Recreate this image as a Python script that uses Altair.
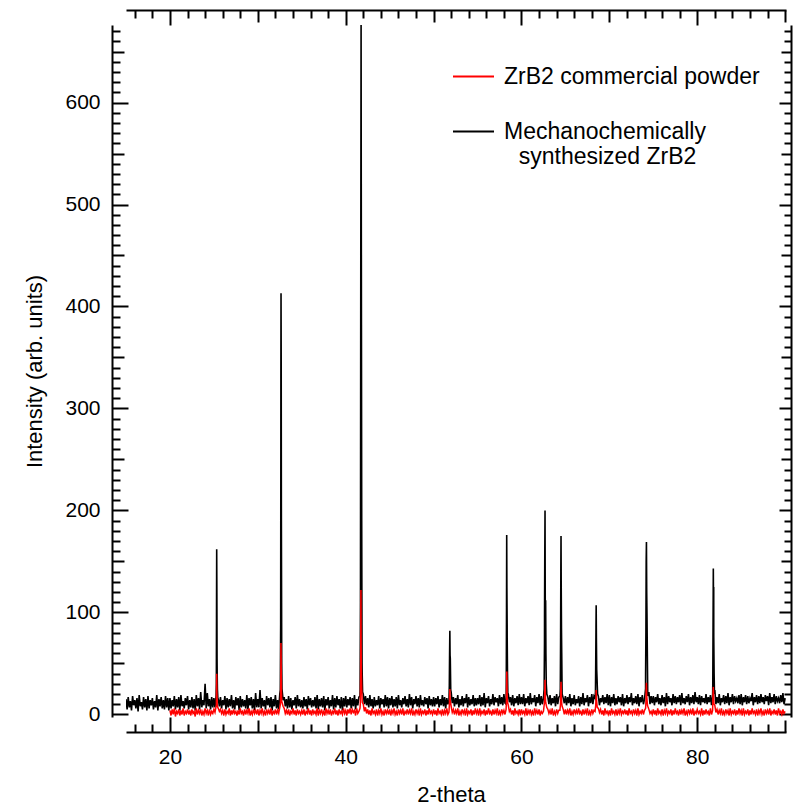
import altair as alt
import numpy as np
import pandas as pd

FONT = "Liberation Sans"

# ---------------- axis ranges and ticks ----------------
X_DOMAIN = [15, 90.1]
Y_DOMAIN = [-2.5, 676]

x_major = [20, 40, 60, 80]
x_medium = [30, 50, 70, 90]
x_minor = [16, 18, 22, 24, 26, 28, 32, 34, 36, 38, 42, 44, 46, 48, 52, 54, 56, 58,
           62, 64, 66, 68, 72, 74, 76, 78, 82, 84, 86, 88]
y_major = [0, 100, 200, 300, 400, 500, 600]
y_medium = [50, 150, 250, 350, 450, 550, 650]
y_minor = [10, 20, 30, 40, 60, 70, 80, 90, 110, 120, 130, 140, 160, 170, 180, 190,
           210, 220, 230, 240, 260, 270, 280, 290, 310, 320, 330, 340, 360, 370, 380, 390,
           410, 420, 430, 440, 460, 470, 480, 490, 510, 520, 530, 540, 560, 570, 580, 590,
           610, 620, 630, 640, 660, 670]

SERIES_RED = "ZrB2 commercial powder"
SERIES_BLACK = "Mechanochemically synthesized ZrB2"

# ---------------- mechanochemically synthesized ZrB2 (black) ----------------
# baseline grid: 15.000 .. 90.000, step 0.125 deg (one row = 5 deg)
black_start, black_step = 15.0, 0.125
black_base = (
    [15, 5, 17, 7, 13, 4, 18, 9, 14, 6, 16, 3, 19, 8, 12, 5, 17, 7, 15, 4,
     18, 6, 14, 9, 16, 5, 13, 7, 19, 4, 15, 8, 17, 6, 14, 5, 18, 7, 16, 4] +
    [16, 6, 14, 8, 18, 5, 15, 7, 17, 4, 19, 8, 13, 6, 16, 9, 18, 5, 14, 7,
     17, 6, 15, 4, 19, 8, 16, 5, 22, 7, 14, 9, 30, 6, 21, 8, 15, 5, 17, 7] +
    [16, 7, 18, 40, 15, 8, 17, 6, 14, 9, 18, 5, 16, 7, 15, 8, 19, 6, 14, 5,
     17, 9, 16, 4, 18, 7, 15, 8, 14, 6, 19, 5, 16, 9, 17, 6, 15, 4, 21, 7] +
    [15, 7, 24, 6, 16, 8, 14, 5, 18, 9, 16, 7, 17, 4, 15, 8, 19, 6, 14, 5,
     20, 330, 25, 14, 17, 8, 15, 6, 18, 7, 16, 5, 14, 9, 17, 6, 19, 8, 15, 7] +
    [14, 6, 17, 8, 15, 5, 18, 9, 16, 7, 14, 8, 17, 6, 19, 5, 15, 8, 16, 7,
     18, 4, 15, 9, 17, 6, 14, 8, 19, 5, 16, 7, 18, 9, 15, 6, 17, 4, 16, 8] +
    [18, 7, 15, 9, 17, 6, 16, 8, 19, 5, 15, 9, 17, 18, 680, 40, 20, 10, 18, 9,
     16, 7, 19, 8, 15, 6, 17, 8, 14, 9, 18, 6, 16, 10, 15, 7, 19, 8, 17, 6] +
    [16, 9, 18, 7, 15, 8, 17, 6, 19, 9, 14, 7, 16, 10, 18, 8, 15, 7, 20, 9,
     17, 6, 15, 10, 18, 8, 16, 7, 19, 9, 14, 8, 17, 10, 16, 6, 18, 9, 15, 8] +
    [17, 8, 16, 10, 18, 7, 15, 9, 19, 8, 17, 6, 16, 10, 14, 58, 22, 11, 17, 8,
     16, 10, 19, 7, 15, 9, 18, 8, 16, 11, 20, 7, 17, 9, 15, 10, 19, 8, 16, 9] +
    [16, 10, 19, 8, 17, 9, 21, 7, 16, 11, 18, 8, 15, 10, 20, 9, 17, 12, 16, 8,
     19, 10, 17, 9, 20, 11, 10, 75, 20, 12, 17, 9, 19, 8, 16, 11, 18, 9, 20, 10] +
    [17, 10, 20, 8, 16, 11, 18, 9, 21, 10, 16, 12, 19, 8, 17, 11, 20, 9, 18, 10,
     16, 95, 112, 22, 17, 10, 19, 9, 16, 11, 18, 8, 20, 10, 17, 18, 175, 20, 16, 11] +
    [18, 9, 17, 11, 20, 8, 16, 10, 19, 9, 15, 11, 18, 8, 17, 10, 21, 9, 16, 12,
     19, 8, 17, 11, 20, 10, 18, 16, 107, 28, 18, 9, 16, 12, 19, 10, 17, 11, 20, 9] +
    [19, 8, 17, 11, 20, 9, 16, 10, 18, 12, 17, 9, 20, 8, 16, 11, 19, 10, 17, 12,
     21, 9, 16, 11, 18, 10, 20, 8, 17, 12, 19, 10, 15, 40, 120, 18, 22, 10, 18, 11] +
    [18, 9, 17, 12, 20, 10, 16, 9, 19, 11, 17, 8, 21, 10, 18, 12, 16, 9, 20, 11,
     18, 10, 17, 12, 19, 9, 21, 11, 16, 10, 18, 12, 20, 9, 17, 11, 19, 10, 22, 12] +
    [17, 10, 19, 9, 18, 12, 16, 11, 20, 10, 17, 12, 19, 9, 18, 125, 24, 10, 17, 11,
     20, 9, 16, 12, 19, 10, 18, 11, 21, 9, 17, 12, 20, 10, 18, 13, 16, 11, 19, 10] +
    [20, 9, 17, 12, 19, 10, 18, 11, 16, 13, 21, 9, 17, 12, 19, 10, 18, 11, 20, 12,
     17, 10, 19, 13, 18, 9, 21, 11, 17, 12, 20, 10, 18, 13, 16, 11, 19, 12, 21, 10] +
    [16]
)
black_peak_x = [25.28, 25.30, 25.32, 25.34, 25.36, 25.40, 25.45,
                32.56, 32.60, 32.62, 32.64, 32.66, 32.68, 32.72,
                41.64, 41.68, 41.71, 41.77, 41.79, 41.82, 41.86, 41.92,
                51.79, 51.82, 51.85, 51.87, 51.90, 51.95,
                58.27, 58.30, 58.32, 58.34, 58.37, 58.41, 58.45,
                62.58, 62.62, 62.65, 62.68, 62.71, 62.78, 62.82, 62.88,
                64.42, 64.45, 64.48, 64.52, 64.55, 64.58, 64.62,
                68.42, 68.45, 68.48, 68.53, 68.56, 68.60, 68.66,
                74.12, 74.16, 74.19, 74.22, 74.28, 74.31, 74.36,
                81.77, 81.80, 81.83, 81.85, 81.88, 81.92, 81.96]
black_peak_y = [30, 95, 162, 120, 55, 25, 16,
                24, 90, 260, 413, 345, 190, 50,
                25, 110, 400, 520, 382, 190, 50, 22,
                28, 58, 82, 62, 55, 24,
                30, 105, 176, 125, 88, 40, 20,
                25, 70, 150, 200, 95, 60, 30, 20,
                25, 70, 140, 130, 85, 60, 25,
                22, 50, 85, 70, 44, 35, 20,
                25, 80, 150, 169, 99, 70, 25,
                30, 85, 143, 110, 76, 40, 20]

# ---------------- ZrB2 commercial powder (red) ----------------
# baseline grid: 20.000 .. 90.000, step 0.125 deg (one row = 5 deg)
red_start, red_step = 20.0, 0.125
red_base = (
    [4, -1, 5, 0, 6, -2, 3, 1, 5, -1, 4, 0, 6, -1, 3, 1, 5, 0, 4, -1,
     5, 1, 3, -2, 6, 0, 4, 1, 5, -1, 3, 0, 6, 1, 4, -1, 5, 0, 3, 1] +
    [5, 2, 8, 14, 6, 3, 5, 1, 4, -1, 5, 0, 3, 1, 6, -1, 4, 0, 5, 1,
     3, -1, 4, 0, 6, 1, 3, -1, 5, 0, 4, 1, 6, -1, 3, 0, 5, 1, 4, 0] +
    [5, -1, 4, 1, 6, 0, 3, -1, 5, 1, 4, 0, 6, -1, 3, 1, 5, 0, 4, 1,
     7, 50, 12, 8, 6, 1, 4, 0, 5, -1, 3, 1, 6, 0, 4, -1, 5, 1, 3, 0] +
    [4, 0, 5, -1, 3, 1, 6, 0, 4, -1, 5, 1, 3, 0, 6, -1, 4, 1, 5, 0,
     3, -1, 6, 1, 4, 0, 5, -1, 3, 1, 6, 0, 4, -1, 5, 1, 3, 0, 6, 1] +
    [4, -1, 5, 1, 6, 0, 5, 2, 4, -1, 6, 1, 3, 6, 70, 14, 10, 3, 7, 1,
     5, 0, 4, -1, 6, 1, 3, 0, 5, -1, 4, 1, 6, 0, 3, -1, 5, 1, 4, 0] +
    [5, -1, 4, 1, 6, 0, 3, -1, 5, 1, 4, 0, 6, -1, 3, 1, 5, 0, 4, 1,
     6, -1, 3, 0, 5, 1, 4, -1, 6, 0, 3, 1, 5, -1, 4, 0, 6, 1, 3, 0] +
    [5, 0, 4, -1, 6, 1, 3, 0, 5, -1, 4, 1, 6, 0, 2, 18, 8, 2, 5, 0,
     4, 1, 6, -1, 3, 0, 5, 1, 4, -1, 6, 0, 3, 1, 5, -1, 4, 0, 6, 1] +
    [4, -1, 6, 0, 3, 1, 5, -1, 4, 0, 6, 1, 3, -1, 5, 0, 4, 1, 6, -1,
     3, 0, 5, 1, 4, 0, 5, 18, 9, 3, 5, 0, 4, -1, 6, 1, 3, 0, 5, -1] +
    [5, 1, 3, 0, 6, -1, 4, 1, 5, 0, 3, -1, 6, 1, 4, 0, 5, -1, 3, 1,
     3, 18, 12, 7, 5, 1, 4, 0, 6, -1, 3, 0, 5, 1, 4, 4, 32, 8, 5, 0] +
    [5, 0, 4, 1, 6, -1, 3, 0, 5, 1, 4, 0, 6, 1, 3, -1, 5, 0, 4, 1,
     6, -1, 3, 0, 5, 1, 4, 3, 24, 7, 6, 2, 5, 0, 4, -1, 6, 1, 3, 0] +
    [4, -1, 6, 1, 3, 0, 5, -1, 4, 1, 6, 0, 3, 1, 5, 0, 4, -1, 6, 1,
     3, 0, 5, 1, 4, -1, 6, 0, 3, 1, 5, 0, 4, 6, 18, 8, 5, 1, 3, 0] +
    [5, 0, 4, -1, 6, 1, 3, 0, 5, -1, 4, 1, 6, 0, 3, 1, 5, -1, 4, 0,
     6, 1, 3, -1, 5, 0, 4, 1, 6, -1, 3, 0, 5, 1, 4, 0, 6, -1, 3, 1] +
    [5, 1, 3, 0, 6, -1, 4, 0, 5, 1, 3, -1, 6, 0, 4, 14, 9, 2, 5, 0,
     4, 1, 6, -1, 3, 0, 5, 1, 4, -1, 6, 0, 3, 1, 5, -1, 4, 0, 6, 1] +
    [4, -1, 6, 0, 3, 1, 5, -1, 4, 0, 6, 1, 3, 0, 5, -1, 4, 1, 6, 0,
     3, -1, 5, 1, 4, 0, 6, -1, 3, 1, 5, 0, 4, -1, 6, 1, 3, 0, 5, 1] +
    [3]
)
red_peak_x = [25.28, 25.30, 25.32, 25.34, 25.38, 25.44,
              32.57, 32.61, 32.63, 32.66, 32.69, 32.72,
              41.66, 41.70, 41.73, 41.78, 41.82, 41.88,
              51.81, 51.85, 51.89,
              58.28, 58.31, 58.33, 58.36, 58.41,
              62.62, 62.66, 62.68, 62.71,
              64.44, 64.47, 64.53, 64.58,
              68.45, 68.48, 68.54, 68.60,
              74.16, 74.19, 74.22, 74.29, 74.34,
              81.77, 81.80, 81.83, 81.86, 81.91]
red_peak_y = [8, 25, 40, 22, 10, 7,
              10, 30, 70, 45, 22, 12,
              10, 40, 122, 44, 25, 12,
              12, 25, 14,
              12, 30, 42, 25, 12,
              12, 25, 34, 20,
              10, 22, 20, 11,
              9, 15, 14, 9,
              12, 25, 31, 14, 9,
              12, 22, 27, 18, 10]

assert len(black_base) == 601 and len(red_base) == 561
assert len(black_peak_x) == len(black_peak_y) and len(red_peak_x) == len(red_peak_y)


def build(start, step, base, px, py, name):
    gx = np.round(start + step * np.arange(len(base)), 3)
    df = pd.DataFrame({"x": np.concatenate([gx, np.array(px, dtype=float)]),
                       "y": np.concatenate([np.array(base, dtype=float), np.array(py, dtype=float)])})
    df = df.sort_values("x", kind="stable").reset_index(drop=True)
    df["series"] = name
    return df


df_black = build(black_start, black_step, black_base, black_peak_x, black_peak_y, SERIES_BLACK)
df_red = build(red_start, red_step, red_base, red_peak_x, red_peak_y, SERIES_RED)

xs = alt.Scale(domain=X_DOMAIN, nice=False, zero=False)
ys = alt.Scale(domain=Y_DOMAIN, nice=False, zero=False)
cscale = alt.Scale(domain=[SERIES_RED, SERIES_BLACK], range=["#ff0000", "#000000"])

legend = alt.Legend(
    orient="none", legendX=326, legendY=30, title=None,
    symbolType="stroke", symbolSize=1681, symbolStrokeWidth=2,
    labelFont=FONT, labelFontSize=23, labelColor="black", labelLimit=600,
    labelOffset=9, rowPadding=21, padding=0,
    labelExpr=("datum.label == '" + SERIES_BLACK + "' ? "
               "['Mechanochemically', '\u200b\u00a0\u00a0\u200asynthesized ZrB2'] : datum.label"),
)

x_axis_main = alt.Axis(
    orient="bottom", offset=15, values=x_major, ticks=False, grid=False,
    domain=True, domainColor="black", domainWidth=2,
    labelFont=FONT, labelFontSize=21, labelColor="black", labelPadding=14,
    title="2-theta", titleFont=FONT, titleFontSize=22, titleFontWeight="normal",
    titleColor="black", titlePadding=17, titleX=325,
)
y_axis_main = alt.Axis(
    orient="left", offset=14, values=y_major, ticks=False, grid=False,
    domain=True, domainColor="black", domainWidth=2,
    labelFont=FONT, labelFontSize=21, labelColor="black", labelPadding=12,
    title="Intensity (arb. units)", titleFont=FONT, titleFontSize=22,
    titleFontWeight="normal", titleColor="black", titlePadding=18,
)


def tick_axis(orient, offset, values, size, domain=False):
    kw = dict(orient=orient, offset=offset, values=values, labels=False, ticks=True,
              tickSize={"expr": str(-size)}, tickWidth=2, tickColor="black",
              title=None, grid=False, domain=domain)
    if domain:
        kw.update(domainColor="black", domainWidth=2)
    return alt.Axis(**kw)


tiny = pd.DataFrame({"x": [x_major[0]], "y": [y_major[0]]})


def tick_layer(xaxis, yaxis):
    return alt.Chart(tiny).mark_point(opacity=0).encode(
        x=alt.X("x:Q", scale=xs, axis=xaxis),
        y=alt.Y("y:Q", scale=ys, axis=yaxis),
    )


black = alt.Chart(df_black).mark_line(strokeWidth=1.6, clip=True).encode(
    x=alt.X("x:Q", scale=xs, axis=x_axis_main),
    y=alt.Y("y:Q", scale=ys, axis=y_axis_main),
    color=alt.Color("series:N", scale=cscale, legend=legend),
)
red = alt.Chart(df_red).mark_line(strokeWidth=1.5, clip=True).encode(
    x=alt.X("x:Q", scale=xs, axis=None),
    y=alt.Y("y:Q", scale=ys, axis=None),
    color=alt.Color("series:N", scale=cscale, legend=legend),
)

layers = [
    tick_layer(tick_axis("bottom", 15, x_minor, 8), tick_axis("left", 14, y_minor, 8)),
    tick_layer(tick_axis("bottom", 15, x_medium, 12), tick_axis("left", 14, y_medium, 12)),
    tick_layer(tick_axis("bottom", 15, x_major, 15), tick_axis("left", 14, y_major, 16)),
    tick_layer(tick_axis("top", 15, x_minor, 8, domain=True), tick_axis("right", 5, y_minor, 7, domain=True)),
    tick_layer(tick_axis("top", 15, x_medium, 12), tick_axis("right", 5, y_medium, 10)),
    tick_layer(tick_axis("top", 15, x_major, 15), tick_axis("right", 5, y_major, 12)),
    black,
    red,
]

chart = alt.layer(*layers).resolve_axis(x="independent", y="independent").properties(
    width=660, height=692,
    autosize=alt.AutoSizeParams(type="none"),
    padding={"left": 126, "top": 25, "right": 17, "bottom": 89},
    background="white",
).configure_view(stroke=None)

chart.save("out.html", embed_options={"renderer": "svg", "actions": False})
